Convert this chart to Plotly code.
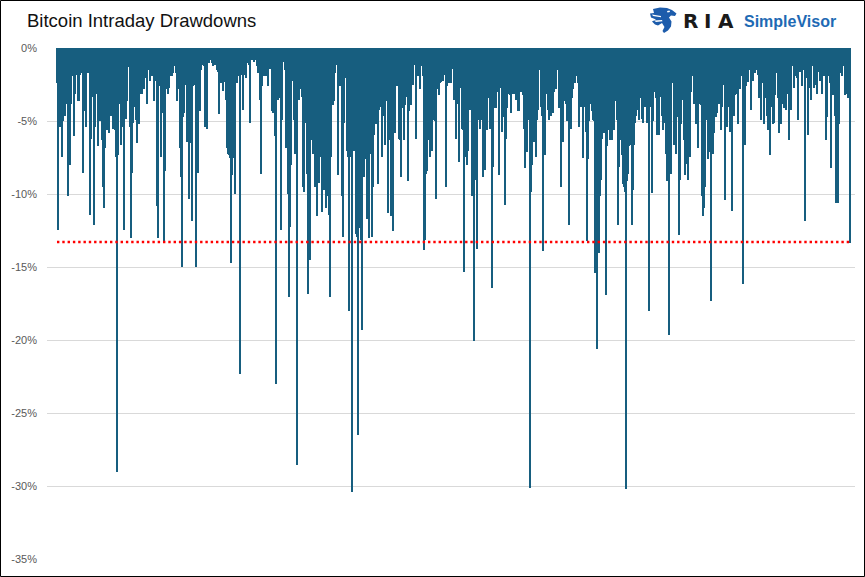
import plotly.graph_objects as go

# Intraday drawdown depth (percent below the day's high), read left to right
drawdown_part1 = [
    2.4, 12.4, 5.4, 5.4, 1.9, 7.4, 5.0, 1.9, 4.6, 3.8,
    1.9, 10.1, 2.1, 8.0, 3.8, 1.7, 1.9, 6.0, 3.1, 1.8,
    1.8, 3.6, 3.6, 1.8, 1.4, 1.7, 8.5, 4.3, 1.9, 5.4,
    1.6, 1.7, 1.7, 11.4, 6.2, 3.3, 3.3, 12.1, 5.4, 3.1,
    2.2, 6.7, 4.7, 5.0, 2.2, 6.3, 9.5, 10.9, 6.8, 2.8,
    5.6, 2.8, 5.8, 2.6, 4.6, 2.6, 5.5, 5.4, 5.6, 7.4,
    29.0, 7.3, 3.6, 3.8, 6.6, 5.4, 3.6, 12.4, 4.7, 4.8,
    3.6, 0.3, 1.3, 5.4, 13.0, 8.5, 5.1, 4.0, 1.7, 4.9,
    6.5, 0.9, 5.2, 2.9, 3.1, 3.1, 1.9, 2.8, 2.0, 0.9,
    3.8, 1.0, 1.5, 2.2, 1.1, 1.9, 1.6, 3.6, 2.2,
]
drawdown_part2 = [
    1.2, 10.8, 13.0, 2.5, 2.6, 7.4, 2.4, 4.4, 13.2, 8.4,
    2.8, 1.6, 3.1, 2.7, 1.9, 1.0, 1.9, 1.7, 0.6, 1.2,
    1.7, 3.6, 2.3, 2.8, 6.8, 8.8, 15.0, 4.7, 4.4, 2.5,
    2.0, 6.4, 3.0, 10.3, 5.4, 6.5, 11.8, 2.6, 2.5, 2.3,
    15.0, 5.9, 8.5, 4.2, 4.3, 1.5, 1.1, 0.6, 1.2, 5.4,
    1.6, 5.5, 0.1, 1.0, 0.8, 0.6, 1.0, 1.2, 0.6, 1.1,
    0.8, 1.5, 1.6, 4.5, 1.6, 2.4, 1.8, 2.9, 1.6, 2.3,
    3.5, 6.8, 7.2, 7.3, 7.5, 14.7, 8.7, 3.5, 7.5, 10.0,
    1.7, 2.4, 1.7, 1.9, 22.3, 1.7, 1.8, 4.2, 1.6, 1.8,
    2.0, 1.0, 0.9, 1.1, 5.1, 0.8, 0.8, 0.7, 0.9, 0.8,
]
drawdown_part3 = [
    0.7, 1.2, 1.7, 0.9, 3.5, 8.6, 2.6, 1.9, 1.4, 1.9,
    1.5, 1.9, 2.6, 1.4, 1.4, 0.3, 4.3, 4.4, 1.7, 6.0,
    23.0, 3.4, 3.5, 0.6, 3.4, 12.4, 4.9, 0.8, 0.9, 1.5,
    6.8, 4.2, 10.0, 17.0, 12.2, 8.0, 2.2, 1.9, 4.9, 7.2,
    5.0, 28.5, 2.7, 3.5, 2.0, 2.8, 3.3, 9.5, 9.8, 5.1,
    1.7, 8.6, 16.8, 11.5, 14.5, 6.3, 5.7, 7.2, 2.0, 9.5,
    8.2, 11.5, 8.4, 9.2, 7.4, 2.8, 11.2, 3.4, 9.7, 3.5,
    10.9, 4.0, 10.1, 11.4, 17.0, 7.4, 3.9, 3.9, 3.6, 1.7,
    1.0, 1.1, 8.7, 2.2, 2.6, 1.9, 10.1, 12.9, 5.1, 1.4,
    2.0, 7.0, 7.4, 18.0, 6.3, 7.4, 30.4, 7.0, 7.0, 7.0,
]
drawdown_part4 = [
    12.7, 12.9, 26.5, 12.3, 12.1, 13.1, 19.3, 8.2, 8.8, 7.6,
    2.7, 11.7, 9.3, 13.0, 7.2, 7.2, 12.9, 9.5, 5.9, 2.6,
    5.2, 2.8, 9.3, 4.2, 4.0, 4.0, 7.4, 4.6, 4.2, 6.6,
    3.6, 2.5, 11.3, 6.3, 3.1, 11.5, 4.8, 12.5, 2.2, 5.8,
    1.0, 2.6, 2.6, 6.2, 6.3, 8.8, 4.0, 4.1, 6.3, 3.9,
    2.4, 3.3, 9.1, 4.3, 1.5, 3.9, 2.2, 2.5, 1.1, 1.1,
    6.2, 1.0, 1.9, 0.7, 2.8, 0.9, 1.2, 1.9, 13.8, 13.1,
    8.6, 8.4, 6.3, 3.5, 7.4, 1.9, 7.0, 4.9, 4.7, 5.0,
    10.3, 2.7, 2.8, 3.2, 2.4, 2.3, 2.0, 2.2, 1.1, 1.8,
    9.5, 2.6, 1.9, 2.4, 1.0, 2.4, 1.0, 1.4, 3.5, 1.0,
]
drawdown_part5 = [
    6.2, 3.8, 1.7, 7.8, 2.2, 2.7, 5.5, 5.6, 15.3, 7.4,
    2.5, 8.0, 7.0, 1.5, 4.2, 3.3, 10.1, 2.8, 20.0, 9.0,
    3.4, 13.7, 4.9, 4.8, 5.5, 2.3, 4.9, 8.8, 5.0, 8.3,
    4.8, 5.6, 2.2, 3.4, 5.5, 4.9, 16.4, 8.1, 4.1, 4.0,
    4.1, 3.0, 2.8, 8.7, 2.4, 2.7, 5.7, 4.7, 2.4, 10.7,
    6.2, 4.1, 3.1, 3.0, 3.2, 4.4, 3.1, 2.0, 3.1, 1.2,
    3.5, 3.0, 4.3, 4.3, 1.9, 3.0, 1.9, 3.2, 5.5, 8.2,
    4.9, 7.1, 0.1, 4.9, 30.1, 9.8, 8.0, 5.9, 6.4, 3.5,
    7.4, 4.9, 4.2, 1.4, 1.5, 4.0, 4.6, 13.9, 6.6, 7.3,
    2.6, 3.1, 4.2, 4.9, 3.2, 4.6, 4.2, 4.4, 3.0, 2.4,
]
drawdown_part6 = [
    2.8, 1.4, 1.5, 4.1, 1.4, 9.5, 3.5, 6.4, 2.4, 3.6,
    3.8, 5.0, 3.0, 12.1, 2.2, 5.5, 3.4, 2.8, 2.3, 2.4,
    1.9, 1.9, 2.4, 5.4, 3.4, 4.0, 3.2, 7.5, 4.0, 2.4,
    5.7, 13.2, 7.6, 5.0, 3.8, 1.0, 4.3, 4.9, 5.0, 15.4,
    7.2, 20.6, 12.2, 14.0, 10.1, 9.0, 6.2, 4.0, 5.8, 5.6,
    16.9, 6.7, 5.6, 3.5, 6.3, 5.1, 6.3, 3.2, 5.6, 3.5,
    3.6, 4.9, 12.1, 8.1, 6.3, 4.6, 7.3, 9.3, 9.5, 9.8,
    30.2, 9.1, 8.6, 6.7, 5.8, 6.6, 12.1, 9.7, 6.6, 5.1,
    4.6, 4.1, 4.2, 4.9, 2.3, 3.4, 4.8, 5.1, 3.4, 4.0,
    4.0, 5.1, 5.0, 18.0, 4.0, 3.8, 9.9, 5.0, 3.0, 3.0,
]
drawdown_part7 = [
    3.4, 5.9, 3.0, 5.9, 3.3, 3.1, 4.6, 5.6, 3.9, 5.1,
    7.2, 9.1, 7.1, 19.6, 6.3, 8.6, 2.4, 1.9, 6.6, 3.4,
    7.2, 4.7, 3.5, 12.8, 9.0, 5.2, 3.5, 2.6, 6.3, 8.7,
    3.5, 7.9, 9.0, 3.2, 7.4, 3.0, 1.9, 1.4, 3.8, 3.0,
    5.2, 3.1, 6.8, 3.5, 3.8, 3.9, 10.1, 11.5, 10.9, 9.5,
    4.6, 4.9, 7.6, 7.1, 6.5, 17.3, 4.6, 7.2, 5.8, 2.0,
    4.7, 4.4, 3.8, 3.8, 1.9, 5.6, 4.0, 1.8, 2.5, 10.4,
    2.8, 5.4, 4.0, 3.8, 5.7, 1.4, 11.1, 2.2, 4.6, 3.2,
    3.1, 2.0, 5.2, 1.8, 2.8, 1.8, 1.9, 16.1, 4.7, 6.6,
    2.6, 1.7, 2.3, 1.0, 1.5, 4.2, 1.2, 2.2, 1.5, 1.7,
]
drawdown_part8 = [
    0.8, 1.5, 1.8, 3.4, 1.9, 4.9, 1.5, 2.4, 5.2, 3.3,
    3.4, 4.6, 5.6, 2.5, 7.3, 4.0, 2.7, 5.2, 5.1, 3.2,
    1.6, 1.7, 3.4, 5.8, 3.6, 5.2, 3.6, 3.8, 4.1, 4.0,
    4.2, 1.9, 3.1, 6.3, 3.9, 4.2, 0.9, 1.2, 2.7, 1.9,
    1.4, 2.0, 4.9, 1.1, 1.6, 1.1, 2.6, 1.5, 0.7, 11.8,
    2.0, 1.5, 5.9, 1.6, 2.7, 3.5, 0.6, 1.2, 2.7, 1.5,
    2.5, 3.1, 1.6, 0.9, 2.2, 2.2, 3.1, 1.7, 1.9, 1.9,
    6.3, 4.7, 1.9, 0.9, 2.4, 8.2, 2.5, 3.2, 1.2, 4.6,
    10.6, 4.9, 10.6, 5.2, 1.5, 1.7, 1.9, 1.2, 1.2, 3.2,
    3.1, 2.7, 3.4, 0.2, 13.3,
]

threshold_pct = 13.25  # red dotted reference level
y_tick_values = [0, -5, -10, -15, -20, -25, -30, -35]
y_tick_labels = ["0%", "-5%", "-10%", "-15%", "-20%", "-25%", "-30%", "-35%"]

drawdowns = (drawdown_part1 + drawdown_part2 + drawdown_part3 + drawdown_part4
             + drawdown_part5 + drawdown_part6 + drawdown_part7 + drawdown_part8)
day_index = list(range(len(drawdowns)))
n = len(drawdowns)

W, H = 865, 577
L, R, T, B = 47, 10, 48, 17
PW, PH = W - L - R, H - T - B


def px(x):
    return (x - L) / PW


def py(y):
    return (H - B - y) / PH


def path_from(points):
    return "M " + " L ".join(f"{px(x):.5f},{py(y):.5f}" for x, y in points) + " Z"


fig = go.Figure()
fig.add_trace(go.Bar(
    x=day_index,
    y=[-v for v in drawdowns],
    marker=dict(color="#175e7f", line=dict(width=0)),
    hoverinfo="skip",
))

shapes = [
    # red dotted threshold line
    dict(type="line", xref="x", yref="y", x0=-0.5, x1=n - 0.5,
         y0=-threshold_pct, y1=-threshold_pct,
         line=dict(color="#ff0000", width=2.4, dash="2.4px,2.9px"), layer="above"),
    # outer black frame
    dict(type="rect", xref="paper", yref="paper",
         x0=px(0.5), x1=px(W - 0.5), y0=py(H - 0.5), y1=py(0.5),
         line=dict(color="#000000", width=1), fillcolor="rgba(0,0,0,0)", layer="above"),
    # eagle logo mark
    dict(type="path", xref="paper", yref="paper", layer="above",
         path=path_from([(653, 9), (660, 7.5), (667, 8), (672, 10), (676.5, 13.5), (675, 16),
                         (671, 15.5), (669, 17.5), (671.5, 21.5), (671, 26.5), (668, 30.5),
                         (664, 33), (662.5, 31), (664.5, 27), (662, 23), (658, 25.5), (655, 24.5),
                         (652, 21.5), (656, 19.5), (651, 17.5), (650, 13.5), (654, 13)]),
         fillcolor="#1d5cab", line=dict(width=0)),
    dict(type="path", xref="paper", yref="paper", layer="above",
         path=path_from([(652, 14.5), (661, 16), (661, 17.2), (653, 16)]),
         fillcolor="#ffffff", line=dict(width=0)),
    dict(type="path", xref="paper", yref="paper", layer="above",
         path=path_from([(654, 20.5), (662, 20), (662.5, 21.2), (656, 22)]),
         fillcolor="#ffffff", line=dict(width=0)),
    dict(type="path", xref="paper", yref="paper", layer="above",
         path=path_from([(667, 11), (669.5, 10.5), (670, 12), (667.5, 12.5)]),
         fillcolor="#ffffff", line=dict(width=0)),
]

logo_font = dict(family="DejaVu Sans", size=20, color="#1a1a1a", weight="bold")
annotations = [
    dict(text="R", x=px(690.5), y=py(20.5), xref="paper", yref="paper",
         showarrow=False, xanchor="center", yanchor="middle", font=logo_font),
    dict(text="I", x=px(707.5), y=py(20.5), xref="paper", yref="paper",
         showarrow=False, xanchor="center", yanchor="middle", font=logo_font),
    dict(text="A", x=px(725.5), y=py(20.5), xref="paper", yref="paper",
         showarrow=False, xanchor="center", yanchor="middle", font=logo_font),
    dict(text="<b>SimpleVisor</b>", x=px(742), y=py(21), xref="paper", yref="paper",
         showarrow=False, xanchor="left", yanchor="middle",
         font=dict(family="Liberation Sans", size=16, color="#1e6ab4")),
]

fig.update_layout(
    width=W, height=H,
    margin=dict(l=L, r=R, t=T, b=B, pad=0),
    paper_bgcolor="#ffffff",
    plot_bgcolor="#ffffff",
    showlegend=False,
    bargap=0,
    title=dict(text="Bitcoin Intraday Drawdowns", x=27 / W, xanchor="left",
               xref="container", yref="container", y=1 - 20.5 / H, yanchor="middle",
               font=dict(family="Liberation Sans", size=18.5, color="#111111")),
    xaxis=dict(range=[-10.5, n - 0.5 + 5], showticklabels=False, showgrid=False,
               zeroline=False, showline=False, ticks=""),
    yaxis=dict(range=[-35.03, 0.03], tickvals=y_tick_values, ticktext=y_tick_labels,
               showgrid=True, gridcolor="#d9d9d9", gridwidth=1, zeroline=False,
               showline=False, ticks="", ticklabelstandoff=9,
               tickfont=dict(family="Liberation Sans", size=11, color="#595959")),
    shapes=shapes,
    annotations=annotations,
)

fig.write_html("out.html")
